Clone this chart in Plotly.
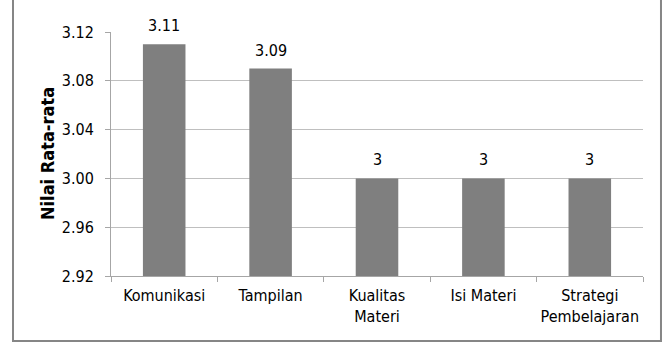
import plotly.graph_objects as go

categories = ["Komunikasi", "Tampilan", "Kualitas<br>Materi", "Isi Materi", "Strategi<br>Pembelajaran"]
values = [3.11, 3.09, 3.00, 3.00, 3.00]
value_labels = ["3.11", "3.09", "3", "3", "3"]
y_ticks = [2.92, 2.96, 3.00, 3.04, 3.08, 3.12]
y_tick_labels = ["2.92", "2.96", "3.00", "3.04", "3.08", "3.12"]

FONT = "DejaVu Sans Condensed, DejaVu Sans, sans-serif"
FS = 16

fig = go.Figure(
    go.Bar(
        x=categories,
        y=values,
        marker=dict(color="#7f7f7f", line=dict(width=0)),
        width=0.4,
    )
)

for c, v, t in zip(categories, values, value_labels):
    fig.add_annotation(
        x=c, y=v, text=t, showarrow=False,
        xanchor="center", yanchor="bottom", yshift=7,
        font=dict(family=FONT, size=FS, color="#000000"),
    )

fig.update_layout(
    width=669,
    height=345,
    margin=dict(l=111, r=26, t=32, b=69),
    paper_bgcolor="#ffffff",
    plot_bgcolor="#ffffff",
    showlegend=False,
    font=dict(family=FONT, size=FS, color="#000000"),
)

fig.update_xaxes(
    automargin=False,
    tickangle=0,
    showgrid=False,
    showline=True,
    linecolor="#a6a6a6",
    linewidth=1,
    ticks="outside",
    tickson="boundaries",
    ticklen=5,
    tickcolor="#a6a6a6",
    ticklabelstandoff=5,
    tickfont=dict(family=FONT, size=FS, color="#000000"),
)

fig.update_yaxes(
    automargin=False,
    range=[2.92, 3.12],
    tickvals=y_ticks,
    ticktext=y_tick_labels,
    showgrid=True,
    gridcolor="#bfbfbf",
    gridwidth=1,
    showline=True,
    linecolor="#a6a6a6",
    linewidth=1,
    ticks="outside",
    ticklen=5,
    tickcolor="#a6a6a6",
    ticklabelstandoff=8,
    tickfont=dict(family=FONT, size=FS, color="#000000"),
    zeroline=False,
)

fig.add_annotation(
    text="<b>Nilai Rata-rata</b>",
    xref="paper", yref="paper",
    x=-0.1203, y=0.5,
    xanchor="center", yanchor="middle",
    textangle=-90,
    showarrow=False,
    font=dict(family=FONT, size=18, color="#000000"),
)

fig.add_shape(
    type="rect",
    xref="paper", yref="paper",
    x0=-0.1842, x1=1.0338, y0=-0.2664, y1=1.16,
    line=dict(color="#868686", width=2),
    fillcolor="rgba(0,0,0,0)",
    layer="below",
)

fig.write_html("out.html")
